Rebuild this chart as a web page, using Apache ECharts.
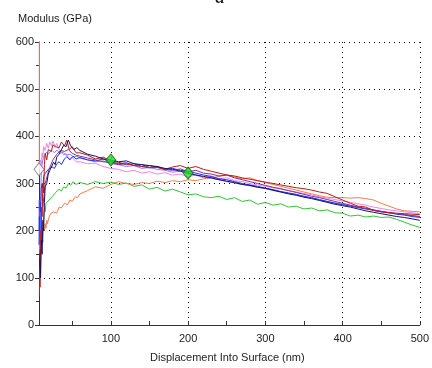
<!DOCTYPE html>
<html>
<head>
<meta charset="utf-8">
<title>Modulus</title>
<script src="https://cdn.jsdelivr.net/npm/echarts@6/dist/echarts.min.js"></script>
</head>
<body style="margin:0;background:#fff">
<div id="main" style="width:432px;height:368px"></div>
<script>
// x values for the body of every curve (nm)
var xBody = [];
for (var i = 60; i <= 500; i += 10) xBody.push(i);

// start of each curve: [x, modulus]
var navyStart = [[8,140],[9,100],[10,180],[11,150],[12,222],[13,200],[14,260],[15,293],[17,300],[19,320],[21,328],[23,335],[26,345],[28,340],[30,356],[33,362],[36,372],[39,381],[42,378],[45,392],[48,380],[52,372],[56,376]];
var redStart = [[7.5,60],[8,120],[8.3,80],[8.6,160],[9,110],[9.5,200],[10,170],[10.5,250],[11,230],[12,300],[13,280],[14,340],[15,364],[17,350],[19,372],[21,375],[23,368],[25,382],[28,378],[30,381],[33,376],[36,388],[40,380],[43,392],[46,372],[50,378],[55,365]];
var pinkStart = [[7,345],[8,330],[9,350],[10,340],[11,365],[12,355],[13,378],[15,370],[17,385],[19,375],[21,388],[23,380],[25,390],[28,378],[30,385],[33,372],[36,368],[39,360],[42,364],[46,352],[50,356],[55,346]];
var blueStart = [[7,170],[7.5,230],[8,200],[8.5,260],[9,240],[10,290],[11,300],[12,290],[13,315],[15,321],[17,318],[19,330],[21,326],[24,335],[27,332],[30,342],[33,346],[36,340],[40,352],[43,357],[47,350],[51,358],[55,352]];
var lilacStart = [[7,265],[7.3,200],[7.6,240],[8,152],[8.4,220],[8.8,180],[9.2,260],[9.6,300],[10,328],[11,340],[12,350],[13,356],[15,360],[17,367],[19,362],[21,367],[24,370],[27,365],[30,371],[34,364],[38,366],[42,360],[47,362],[52,356],[56,358]];
var purpleStart = [[12,250],[15,300],[20,330],[25,350],[30,362],[35,370],[40,368],[45,372],[50,364],[55,360]];
var orangeStart = [[14,200],[15,215],[16,205],[17,222],[18,215],[20,229],[22,236],[24,232],[26,240],[28,244],[30,237],[33,250],[36,248],[40,258],[44,255],[47,265],[50,262],[54,272],[57,270]];
var greenStart = [[11,190],[12,175],[13,230],[14,250],[15,240],[16,258],[18,255],[20,265],[22,262],[24,272],[26,268],[28,280],[30,276],[33,288],[36,284],[39,293],[42,290],[45,300],[48,296],[51,304],[55,298]];

// body values at xBody
var navyBody = [370,362,358,352,350,346,348,342,340,338,336,332,330,326,322,318,315,312,308,305,302,298,296,292,290,286,282,278,275,271,268,264,260,256,253,250,246,242,239,236,233,230,228,225,222];
var redBody = [365,360,352,356,348,345,340,342,336,338,334,330,335,338,332,336,330,326,322,318,316,312,309,306,303,300,297,294,291,289,286,282,279,272,265,258,252,250,243,240,238,237,236,235,234];
var pinkBody = [346,342,343,336,332,330,325,328,322,325,320,323,318,320,314,318,312,316,310,312,306,304,300,297,294,291,288,285,282,279,276,272,269,266,263,260,257,254,250,247,244,242,240,238,236];
var blueBody = [355,350,348,352,346,342,344,338,340,334,336,330,332,328,326,322,318,315,310,308,304,300,297,294,290,287,283,280,277,273,270,266,262,258,255,252,249,246,243,240,238,235,233,230,228];
var lilacBody = [354,350,346,348,342,340,336,338,332,334,330,328,324,326,320,318,314,311,308,304,301,298,295,292,289,285,282,279,276,272,269,265,262,259,256,253,250,247,244,241,239,236,234,232,230];
var purpleBody = [358,354,350,346,345,340,342,338,336,333,335,330,328,331,325,328,322,320,316,318,312,308,304,300,296,292,289,285,281,277,273,270,266,262,258,254,250,247,244,241,238,236,234,232,230];
var orangeBody = [278,285,293,290,298,304,300,298,302,300,305,302,306,304,308,306,310,312,315,318,314,310,312,306,302,298,294,290,286,282,278,274,271,270,270,269,270,268,265,258,252,246,242,241,240];
var greenBody = [302,298,304,300,303,298,301,294,297,288,292,284,288,282,276,278,272,270,273,266,270,262,265,256,260,254,257,250,252,246,248,242,244,238,237,231,233,229,231,228,229,224,218,212,207];

var spike = [[7.3,600],[7.3,330]];
var whiteMarks = [[7,330]];
var greenMarks = [[100,350],[200,322]];

var xTicks = [50,100,150,200,250,300,350,400,450,500];

function curve(start, body) {
  var d = start.slice();
  for (var i = 0; i < body.length; i++) d.push([xBody[i], body[i]]);
  return d;
}

function line(name, color, data) {
  return {
    name: name, type: 'line', data: data, showSymbol: false,
    lineStyle: {color: color, width: 1}, itemStyle: {color: color},
    animation: false, z: 2
  };
}

var myChart = echarts.init(document.getElementById('main'));
var option = {
  backgroundColor: '#fff',
  textStyle: {fontFamily: 'Liberation Sans'},
  grid: {left: 39, right: 9, top: 42, bottom: 43},
  xAxis: [{
    type: 'value', min: 7, max: 500,
    axisLine: {lineStyle: {color: '#333'}},
    axisTick: {show: false},
    axisLabel: {color: '#222', fontSize: 11, margin: 8, showMinLabel: false,
      formatter: function (v) { return v < 50 ? '' : v; }},
    splitLine: {show: true, lineStyle: {color: '#000', type: [1, 4], width: 1}}
  }, {
    // only carries the tick marks at every 50 nm
    type: 'value', min: 7, max: 500, position: 'bottom',
    axisLine: {show: false},
    axisTick: {show: true, inside: true, length: 4, customValues: xTicks, lineStyle: {color: '#333'}},
    axisLabel: {show: false},
    splitLine: {show: false}
  }],
  yAxis: {
    type: 'value', min: 0, max: 600, interval: 100,
    axisLine: {show: true, lineStyle: {color: '#333'}},
    axisTick: {show: true, length: 4, lineStyle: {color: '#333'}},
    minorTick: {show: true, splitNumber: 2, length: 3, lineStyle: {color: '#333'}},
    axisLabel: {color: '#222', fontSize: 11, margin: 5},
    splitLine: {show: true, lineStyle: {color: '#000', type: [1, 4], width: 1}}
  },
  graphic: [
    {type: 'text', left: 18, top: 13, style: {text: 'Modulus (GPa)', fontSize: 11, fill: '#222', fontFamily: 'Liberation Sans'}},
    {type: 'text', left: 150, top: 352, style: {text: 'Displacement Into Surface (nm)', fontSize: 11, fill: '#222', fontFamily: 'Liberation Sans'}},
    {type: 'text', left: 215, top: -12, style: {text: 'a', fontSize: 20, fontStyle: 'italic', fill: '#111', fontFamily: 'Liberation Serif'}}
  ],
  series: [
    line('green', '#33c433', curve(greenStart, greenBody)),
    line('orange', '#f0804a', curve(orangeStart, orangeBody)),
    line('pink', '#ec86ec', curve(pinkStart, pinkBody)),
    line('lilac', '#8482f6', curve(lilacStart, lilacBody)),
    line('blue', '#2030ff', curve(blueStart, blueBody)),
    line('purple', '#7a3494', curve(purpleStart, purpleBody)),
    line('red', '#c01818', curve(redStart, redBody)),
    line('navy', '#1c1058', curve(navyStart, navyBody)),
    line('spike', '#ec9a9a', spike),
    {type: 'scatter', data: whiteMarks, symbol: 'diamond', symbolSize: [10, 13], animation: false, z: 5,
      itemStyle: {color: '#fff', borderColor: '#777', borderWidth: 1}},
    {type: 'scatter', data: greenMarks, symbol: 'diamond', symbolSize: [10, 12], animation: false, z: 5,
      itemStyle: {color: '#22dd22', borderColor: '#116611', borderWidth: 1}}
  ]
};
myChart.setOption(option);
</script>
</body>
</html>
